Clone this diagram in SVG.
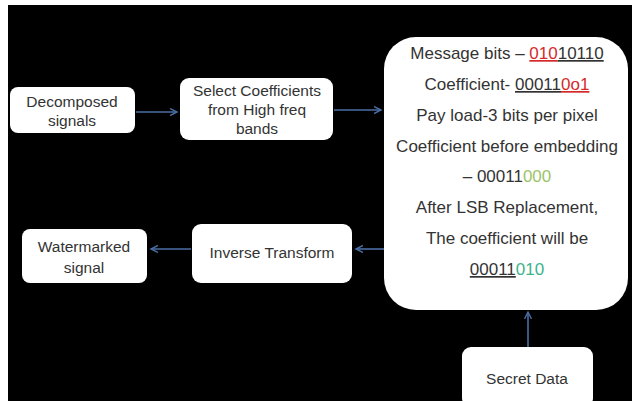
<svg xmlns="http://www.w3.org/2000/svg" width="632" height="401" viewBox="0 0 632 401">
<defs>
<style>
.box{fill:#ffffff;stroke:none}
.t{font-family:"Liberation Sans",Arial,sans-serif;font-size:15.5px;fill:#333333;text-anchor:middle}
.b{font-family:"Liberation Sans",Arial,sans-serif;font-size:17px;fill:#333333;text-anchor:middle}
.red{fill:#d62a2a}
.g1{fill:#9bc46a}
.g2{fill:#3cb38a}
.c{stroke:#4a6fa5;stroke-width:1.6;fill:none}
</style>
<marker id="ah" markerWidth="10" markerHeight="10" refX="7" refY="4" orient="auto" markerUnits="userSpaceOnUse">
<path d="M0,0.5 L7,4 L0,7.5" fill="none" stroke="#4a6fa5" stroke-width="1.4"/>
</marker>
</defs>
<rect x="0" y="0" width="632" height="401" fill="#ffffff"/>
<rect x="8" y="5" width="624" height="396" fill="#000000"/>
<g id="connectors">
<line class="c" x1="136" y1="112" x2="177" y2="112" marker-end="url(#ah)"/>
<line class="c" x1="334" y1="110" x2="381" y2="110" marker-end="url(#ah)"/>
<line class="c" x1="384" y1="249" x2="356" y2="249" marker-end="url(#ah)"/>
<line class="c" x1="191" y1="249" x2="151" y2="249" marker-end="url(#ah)"/>
<line class="c" x1="528" y1="347" x2="528" y2="312" marker-end="url(#ah)"/>
</g>
<g id="decomposed">
<rect class="box" x="10" y="87" width="125" height="46" rx="8"/>
<text class="t" x="72" y="107">Decomposed</text>
<text class="t" x="72" y="126">signals</text>
</g>
<g id="select">
<rect class="box" x="180" y="78" width="153" height="62" rx="9"/>
<text class="t" x="257" y="96">Select Coefficients</text>
<text class="t" x="257" y="115">from High freq</text>
<text class="t" x="257" y="134">bands</text>
</g>
<g id="details">
<rect class="box" x="384" y="37" width="244" height="273" rx="32"/>
<text class="b" x="507" y="59">Message bits – <tspan class="red" text-decoration="underline">010</tspan><tspan text-decoration="underline">10110</tspan></text>
<text class="b" x="507" y="90">Coefficient- <tspan text-decoration="underline">00011</tspan><tspan class="red" text-decoration="underline">0o1</tspan></text>
<text class="b" x="507" y="121">Pay load-3 bits per pixel</text>
<text class="b" x="507" y="152">Coefficient before embedding</text>
<text class="b" x="507" y="182">– 00011<tspan class="g1">000</tspan></text>
<text class="b" x="507" y="213">After LSB Replacement,</text>
<text class="b" x="507" y="244">The coefficient will be</text>
<text class="b" x="507" y="275"><tspan text-decoration="underline">00011</tspan><tspan class="g2">010</tspan></text>
</g>
<g id="inverse">
<rect class="box" x="192" y="224" width="160" height="59" rx="9"/>
<text class="t" x="272" y="258">Inverse Transform</text>
</g>
<g id="watermarked">
<rect class="box" x="22" y="229" width="125" height="54" rx="8"/>
<text class="t" x="84" y="252">Watermarked</text>
<text class="t" x="84" y="273">signal</text>
</g>
<g id="secret">
<rect class="box" x="462" y="347" width="131" height="60" rx="9"/>
<text class="t" x="527" y="384">Secret Data</text>
</g>
</svg>
